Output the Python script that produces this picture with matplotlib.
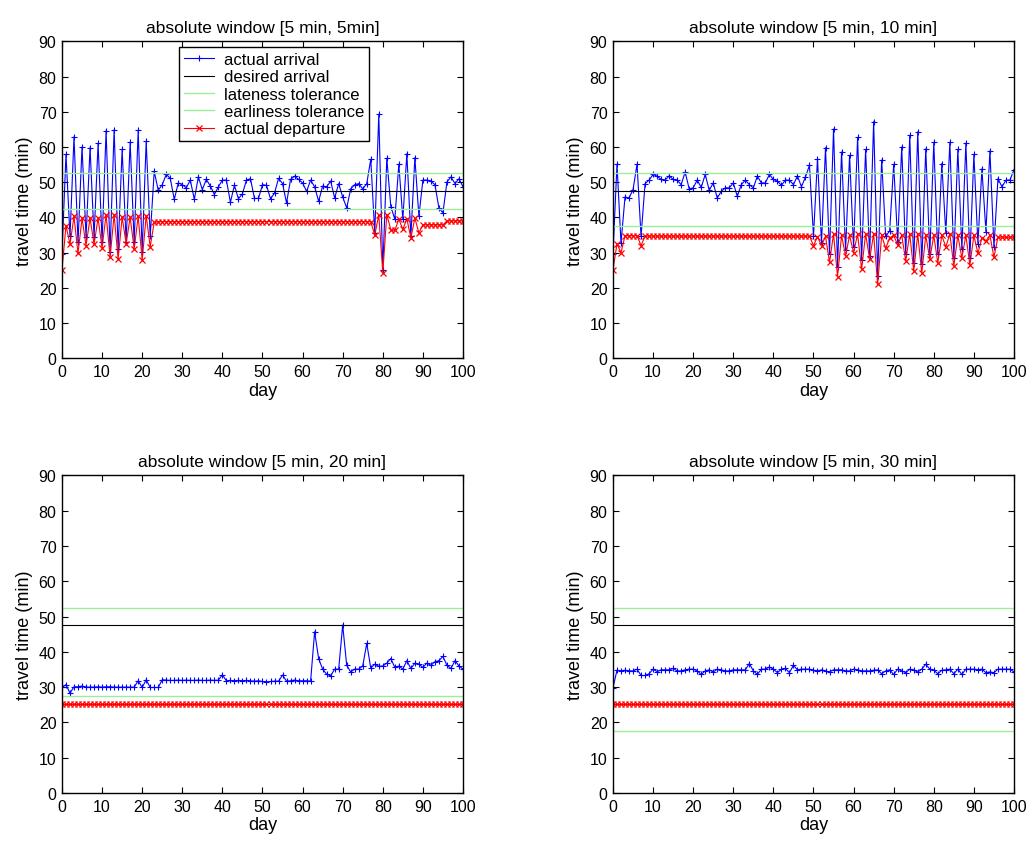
import matplotlib
matplotlib.use("Agg")
import matplotlib.pyplot as plt

plt.rcParams['font.family'] = ['Liberation Sans', 'DejaVu Sans']

days = list(range(0, 101))

# desired arrival and tolerance levels (min)
desired = 47.5
lateness = [52.5, 52.5, 52.5, 52.5]
earliness = [42.5, 37.5, 27.5, 17.5]
titles = ["absolute window [5 min, 5min]", "absolute window [5 min, 10 min]",
          "absolute window [5 min, 20 min]", "absolute window [5 min, 30 min]"]

# window [5, 5]
arrival_5 = [29.6, 57.9, 34.6, 62.9, 32.9, 60.0, 34.4, 59.8, 34.4, 61.0,
             33.1, 64.6, 30.3, 64.9, 31.0, 59.3, 33.1, 61.4, 32.9, 64.8,
             30.3, 61.6, 34.6, 53.1, 47.7, 49.3, 52.2, 51.1, 45.1, 49.8,
             49.3, 48.4, 50.6, 45.1, 51.5, 47.9, 50.8, 48.9, 46.5, 48.7,
             50.6, 50.6, 44.3, 49.1, 45.3, 46.7, 50.6, 51.0, 45.4, 45.4,
             49.3, 49.1, 45.3, 46.9, 51.1, 49.6, 44.1, 50.8, 51.7, 50.8,
             49.8, 47.4, 50.6, 48.7, 44.6, 48.9, 48.7, 50.3, 45.5, 49.6,
             45.8, 42.7, 48.1, 49.3, 49.6, 48.1, 49.6, 56.5, 35.5, 69.3,
             25.1, 56.8, 43.1, 39.5, 55.1, 39.5, 58.1, 34.6, 57.0, 40.3,
             50.6, 50.6, 50.3, 49.3, 42.7, 41.3, 50.1, 51.5, 49.6, 51.0,
             48.7]
departure_5 = ([25.1, 37.7, 32.4, 40.3, 29.8, 39.8, 32.0, 39.8, 32.4, 39.8,
                31.4, 40.8, 28.7, 40.8, 28.2, 40.1, 32.5, 40.1, 31.0, 40.3,
                27.9, 40.5, 31.7, 38.6]
               + [38.8] * 54
               + [35.0, 40.8, 24.3, 40.8, 36.5, 36.3, 39.5, 36.6, 39.6, 34.2,
                  39.8, 35.6]
               + [37.9] * 6 + [39.0] * 5)

# window [5, 10]
arrival_10 = [29.6, 55.1, 32.7, 45.8, 45.5, 47.9, 55.1, 34.6, 49.6, 50.6,
              52.2, 51.7, 50.8, 50.6, 51.8, 50.8, 50.6, 49.3, 52.9, 48.1,
              48.4, 50.6, 48.5, 52.2, 47.7, 49.8, 45.5, 47.4, 48.4, 48.4,
              49.8, 46.0, 49.3, 50.6, 49.3, 48.4, 51.7, 49.8, 49.8, 52.2,
              50.8, 50.3, 49.1, 50.6, 50.6, 49.3, 51.8, 48.7, 51.5, 54.8,
              34.6, 56.7, 32.7, 59.8, 29.5, 65.1, 26.0, 58.6, 30.8, 57.6,
              31.5, 62.7, 28.0, 59.3, 29.0, 67.2, 23.5, 56.3, 34.6, 36.2,
              55.1, 33.0, 60.0, 29.5, 63.3, 27.0, 64.3, 26.8, 59.5, 29.5,
              61.3, 29.5, 55.3, 35.5, 61.3, 28.5, 59.3, 31.0, 61.1, 28.5,
              57.9, 32.5, 53.8, 36.0, 58.9, 31.5, 51.0, 48.7, 50.6, 50.6,
              53.6]
departure_10 = ([25.1, 32.5, 30.0] + [34.8] * 4 + [32.0] + [34.7] * 42
                + [32.0, 34.5, 32.0, 34.6, 27.3, 35.3, 23.2, 34.9, 29.1, 34.9,
                   30.0, 35.3, 25.3, 35.3, 28.2, 35.3, 21.0, 34.9, 31.2, 34.2,
                   34.9, 32.2, 34.9, 27.7, 35.3, 24.8, 35.3, 24.2, 34.9, 28.2,
                   34.9, 27.1, 34.9, 31.6, 35.3, 26.2, 34.9, 28.5, 34.9, 26.5,
                   34.9, 29.8, 34.2, 33.3, 34.9, 28.7]
                + [34.4] * 5)

# window [5, 20]
arrival_20 = [29.9, 30.7, 28.3, 30.1, 30.1, 30.3, 30.0, 30.0, 30.0, 30.1,
              30.0, 30.1, 30.1, 30.0, 30.0, 30.0, 30.0, 30.0, 30.0, 31.8,
              29.9, 32.1, 29.9, 29.9, 29.9, 32.1, 32.0, 31.9, 31.9, 32.0,
              31.9, 32.0, 31.9, 31.9, 32.0, 31.9, 31.9, 32.0, 31.9, 32.0,
              33.5, 31.8, 31.9, 31.8, 31.9, 31.8, 31.9, 31.8, 31.7, 31.8,
              31.6, 31.5, 31.6, 31.7, 31.7, 33.4, 31.7, 31.8, 32.0, 31.8,
              31.8, 31.8, 31.7, 45.7, 38.1, 35.1, 33.7, 33.2, 35.1, 35.1,
              47.6, 36.2, 34.3, 35.1, 35.1, 36.0, 42.4, 35.4, 36.5, 35.9,
              36.0, 36.8, 38.1, 35.6, 36.0, 35.1, 37.5, 35.3, 36.8, 36.5,
              35.6, 36.8, 36.2, 37.2, 37.5, 38.7, 36.2, 35.3, 37.5, 36.0,
              35.1]
departure_20 = [25.3] * 101

# window [5, 30]
arrival_30 = [29.8, 34.8, 34.6, 34.8, 34.6, 34.6, 35.1, 33.3, 33.3, 33.8,
              35.1, 34.4, 34.9, 34.9, 34.9, 35.3, 34.6, 34.6, 34.9, 35.1,
              35.1, 34.6, 33.6, 34.6, 34.9, 34.3, 35.1, 34.9, 34.6, 34.6,
              34.9, 34.9, 34.9, 34.9, 36.7, 34.6, 33.6, 35.1, 35.1, 35.7,
              35.1, 34.1, 35.1, 35.3, 34.1, 36.2, 34.9, 35.1, 35.1, 35.1,
              34.8, 34.6, 34.9, 34.6, 34.3, 34.9, 34.9, 34.9, 34.6, 34.6,
              35.1, 34.9, 34.6, 34.6, 34.6, 34.8, 34.9, 33.8, 34.6, 34.9,
              33.6, 35.1, 34.6, 34.1, 35.1, 34.8, 34.3, 35.1, 36.5, 35.1,
              34.8, 33.8, 34.8, 34.9, 35.1, 33.8, 35.1, 33.6, 35.1, 35.1,
              35.1, 34.9, 35.1, 34.1, 34.3, 34.1, 35.1, 35.1, 35.1, 35.1,
              34.3]
departure_30 = [25.3] * 101

arrivals = [arrival_5, arrival_10, arrival_20, arrival_30]
departures = [departure_5, departure_10, departure_20, departure_30]

positions = [[0.0600, 0.5748, 0.3882, 0.3751],
             [0.5934, 0.5748, 0.3882, 0.3751],
             [0.0600, 0.0604, 0.3882, 0.3757],
             [0.5934, 0.0604, 0.3882, 0.3757]]

green = '#99f099'

fig = plt.figure(figsize=(10.33, 8.45), dpi=100)

for i in range(4):
    ax = fig.add_axes(positions[i])

    ax.plot(days, arrivals[i], c='b', lw=0.8, marker='+', ms=4.5, mew=0.8,
            label="actual arrival")
    ax.plot(days, [desired] * len(days), c='k', lw=0.8, label="desired arrival")
    ax.plot(days, [lateness[i]] * len(days), c=green, lw=1.0,
            label="lateness tolerance")
    ax.plot(days, [earliness[i]] * len(days), c=green, lw=1.0,
            label="earliness tolerance")
    ax.plot(days, departures[i], c='r', lw=0.8, marker='x', ms=3.8, mew=0.9,
            label="actual departure")

    ax.set_xlim(0, 100)
    ax.set_ylim(0, 90)
    ax.set_xticks(range(0, 101, 10))
    ax.set_yticks(range(0, 91, 10))
    ax.tick_params(direction='in', top=True, right=True, length=4,
                   width=0.8, labelsize=11.5, pad=4)
    for s in ax.spines.values():
        s.set_linewidth(1.0)

    ax.set_title(titles[i], fontsize=12.5, pad=7)
    ax.set_xlabel("day", fontsize=13, labelpad=2)
    ax.set_ylabel("travel time (min)", fontsize=13, labelpad=4)

    if i == 0:
        # legend box sits in the upper middle of the first panel
        leg = ax.legend(loc='upper left', bbox_to_anchor=(0.292, 0.982),
                        fontsize=12, fancybox=False, edgecolor='black',
                        framealpha=1, borderpad=0.3, labelspacing=0.14,
                        handlelength=1.8, handletextpad=0.6, borderaxespad=0)
        leg.get_frame().set_linewidth(1.0)

plt.savefig("out.png", dpi=100)
